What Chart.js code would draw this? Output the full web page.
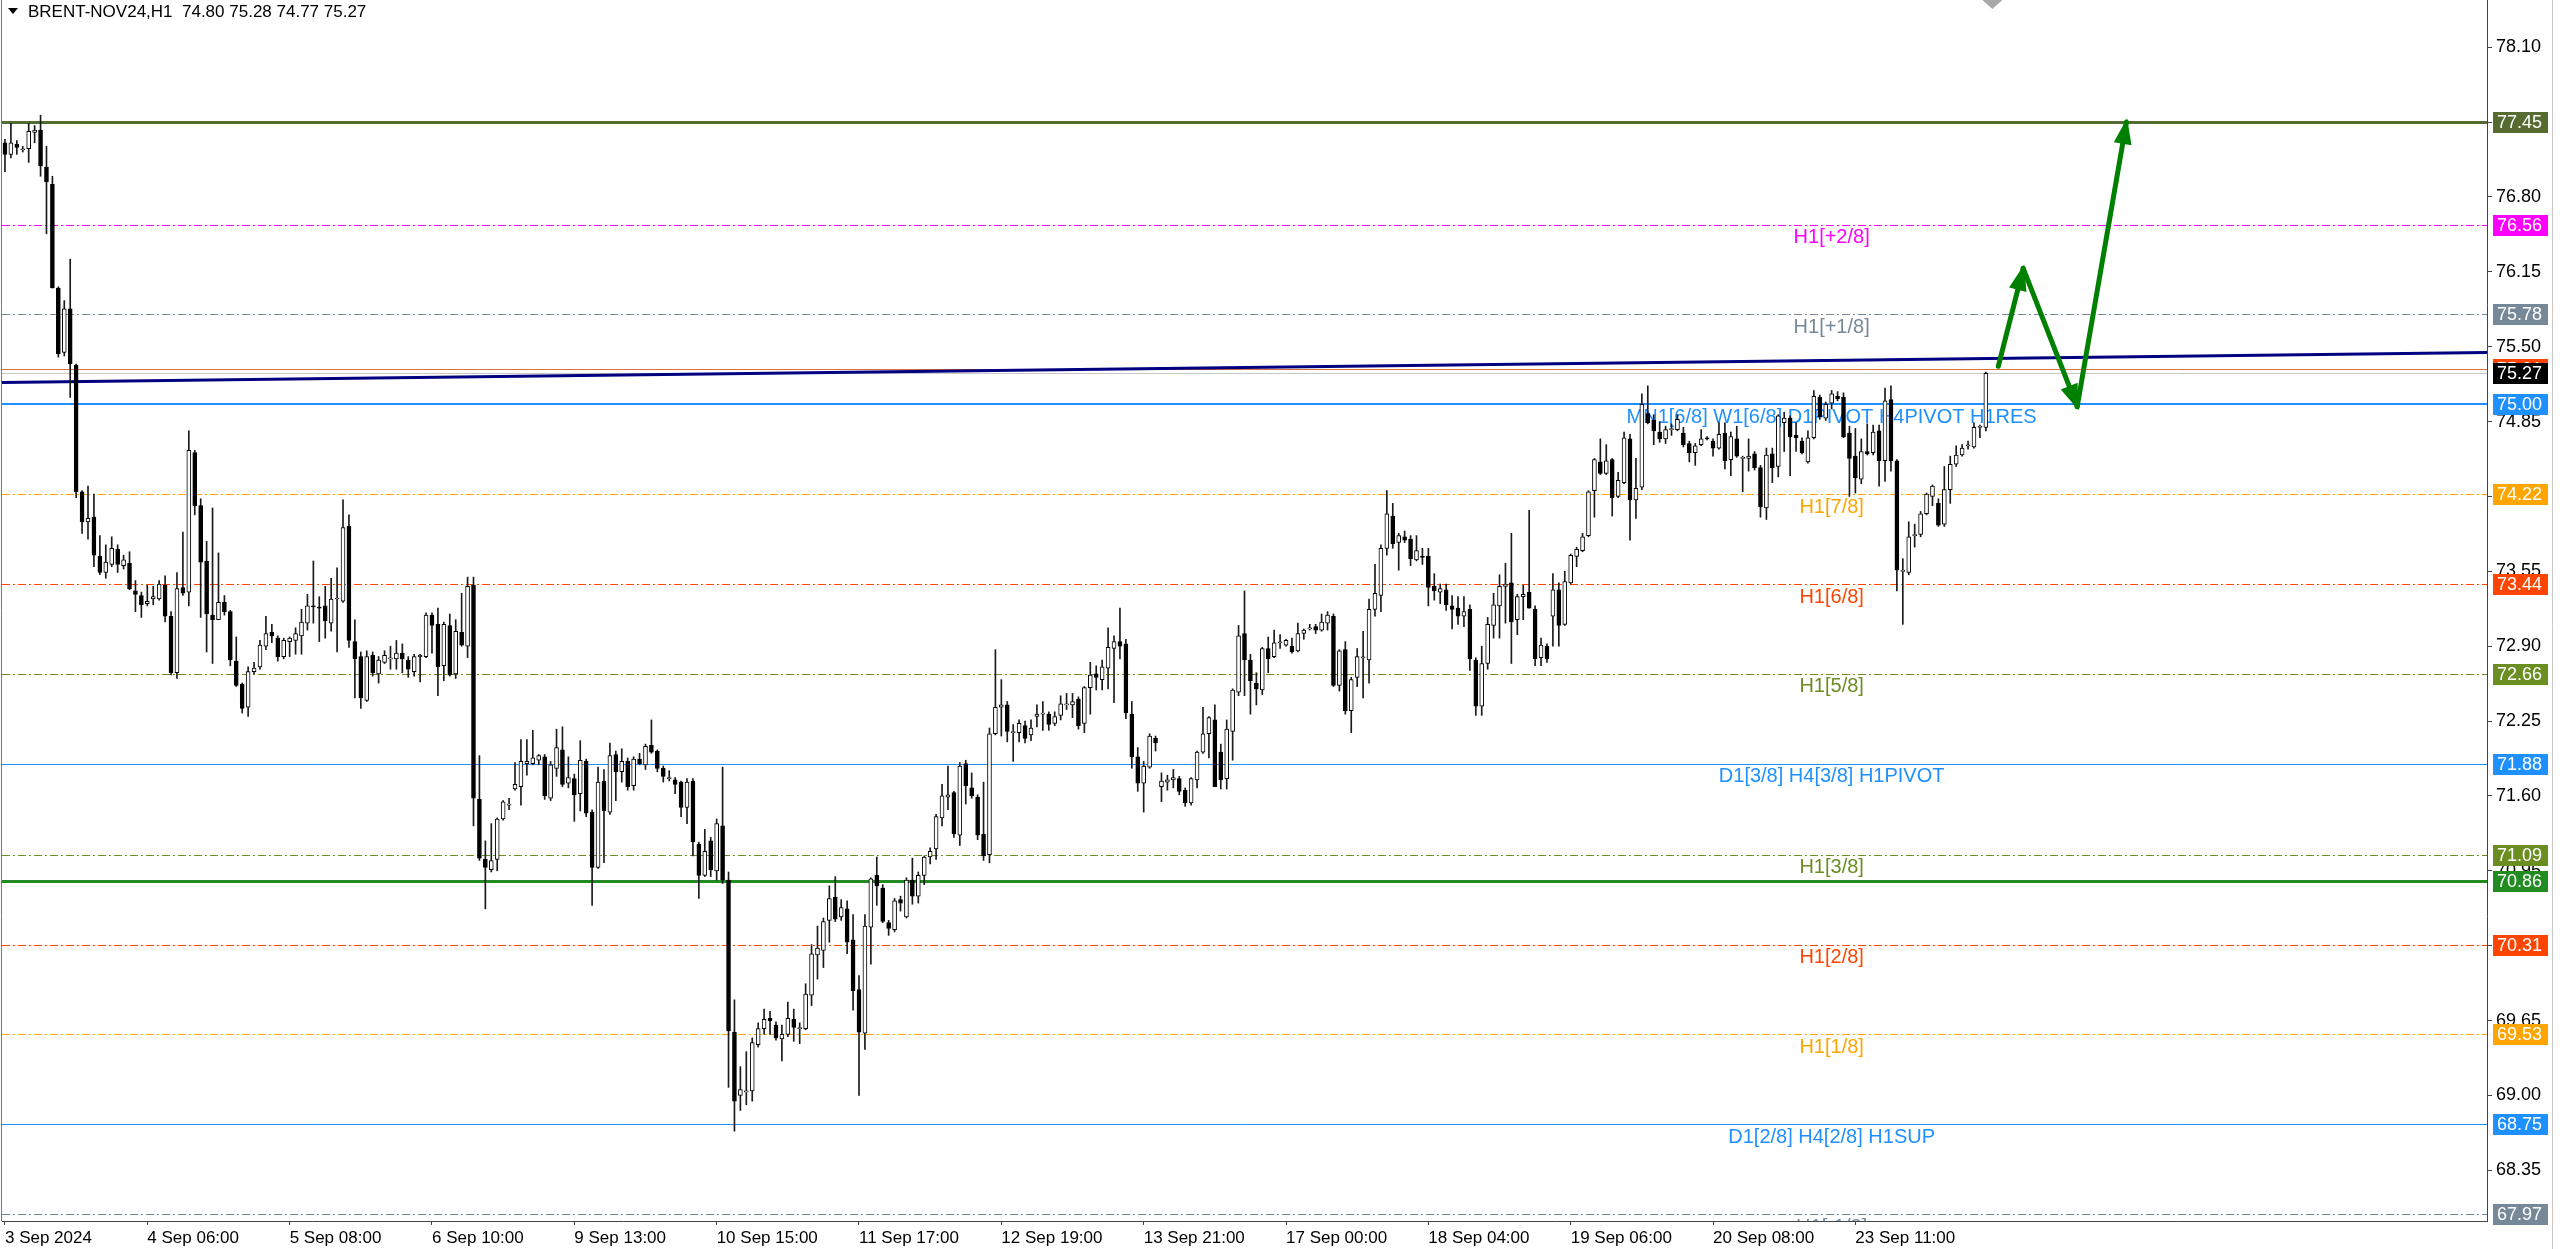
<!DOCTYPE html>
<html>
<head>
<meta charset="utf-8">
<script src="https://cdn.jsdelivr.net/npm/chart.js@4.4.1/dist/chart.umd.min.js"></script>
<style>
  html, body { margin: 0; padding: 0; background: #fff; overflow: hidden; }
  canvas { display: block; }
</style>
</head>
<body>
<canvas id="chart" width="2560" height="1249"></canvas>
<script>
// BRENT-NOV24, H1 - lecturas aproximadas de cada vela
const opens = [
  77.27, 77.17, 77.26, 77.21, 77.22, 77.36, 77.38, 77.06, 76.91, 76.01,
  75.45, 75.83, 75.34, 74.24, 73.98, 74.02, 73.68, 73.54, 73.61, 73.74,
  73.60, 73.62, 73.38, 73.34, 73.27, 73.31, 73.31, 73.43, 73.16, 72.67,
  73.41, 73.37, 74.58, 74.12, 73.64, 73.17, 73.13, 73.28, 73.20, 72.77,
  72.57, 72.37, 72.68, 72.72, 72.90, 73.02, 72.97, 72.81, 72.94, 72.95,
  72.99, 73.10, 73.25, 73.24, 73.25, 73.10, 73.31, 73.29, 73.94, 72.94,
  72.81, 72.43, 72.82, 72.66, 72.76, 72.79, 72.79, 72.84, 72.78, 72.68,
  72.81, 72.81, 73.17, 73.09, 72.73, 73.08, 72.66, 73.02, 72.90, 73.43,
  71.57, 71.05, 70.96, 71.05, 71.40, 71.52, 71.66, 71.68, 71.88, 71.88,
  71.91, 71.94, 71.58, 71.84, 72.00, 71.71, 71.75, 71.62, 71.90, 71.46,
  70.98, 71.73, 71.46, 71.96, 71.81, 71.90, 71.69, 71.92, 71.87, 72.04,
  71.99, 71.84, 71.75, 71.74, 71.72, 71.50, 71.73, 71.18, 70.91, 71.21,
  70.95, 71.34, 70.87, 69.55, 69.00, 69.03, 69.04, 69.44, 69.58, 69.67,
  69.61, 69.49, 69.53, 69.66, 69.58, 69.58, 69.87, 70.22, 70.26, 70.52,
  70.72, 70.55, 70.62, 70.35, 69.92, 69.54, 70.46, 70.91, 70.80, 70.50,
  70.44, 70.70, 70.55, 70.87, 70.73, 70.91, 71.07, 71.14, 71.41, 71.59,
  71.63, 71.26, 71.88, 71.67, 71.59, 71.27, 71.09, 72.14, 72.37, 72.39,
  72.15, 72.15, 72.21, 72.13, 72.29, 72.31, 72.31, 72.23, 72.30, 72.39,
  72.39, 72.44, 72.23, 72.54, 72.66, 72.61, 72.71, 72.88, 72.94, 72.92,
  72.31, 71.94, 71.71, 71.85, 72.10, 71.68, 71.72, 71.74, 71.75, 71.65,
  71.54, 71.74, 71.98, 72.14, 72.26, 71.98, 71.75, 72.16, 72.50, 73.01,
  72.78, 72.58, 72.52, 72.88, 72.81, 72.93, 72.91, 72.90, 72.86, 73.01,
  73.05, 73.07, 73.04, 73.10, 73.16, 72.56, 72.87, 72.34, 72.63, 72.80,
  72.78, 73.22, 73.34, 73.75, 74.03, 73.80, 73.85, 73.83, 73.65, 73.68,
  73.68, 73.42, 73.37, 73.39, 73.25, 73.23, 73.16, 73.22, 72.78, 72.38,
  72.75, 73.08, 73.25, 73.42, 73.45, 73.13, 73.33, 73.37, 73.22, 72.80,
  72.90, 73.16, 73.39, 73.09, 73.45, 73.68, 73.73, 73.86, 74.25, 74.50,
  74.40, 74.52, 74.20, 74.32, 74.70, 74.17, 74.28, 74.92, 74.86, 74.76,
  74.70, 74.78, 74.78, 74.75, 74.66, 74.58, 74.65, 74.71, 74.68, 74.62,
  74.75, 74.52, 74.70, 74.53, 74.53, 74.57, 74.45, 74.10, 74.57, 74.46,
  74.84, 74.88, 74.73, 74.68, 74.50, 74.71, 75.06, 74.88, 75.01, 75.07,
  75.06, 74.75, 74.55, 74.35, 74.59, 74.58, 74.77, 74.51, 75.04, 74.51,
  73.55, 73.54, 73.86, 73.87, 74.05, 74.20, 74.14, 73.96, 74.26, 74.48,
  74.56, 74.64, 74.63, 74.80, 74.80
];
const highs = [
  77.30, 77.44, 77.29, 77.24, 77.44, 77.42, 77.51, 77.24, 76.98, 76.02,
  75.90, 76.26, 75.35, 74.25, 74.29, 74.22, 73.86, 73.78, 73.85, 73.78,
  73.69, 73.72, 73.47, 73.37, 73.43, 73.42, 73.47, 73.51, 73.20, 73.54,
  73.89, 74.77, 74.60, 74.18, 73.81, 74.10, 73.71, 73.34, 73.21, 72.98,
  72.58, 72.72, 72.76, 72.95, 73.16, 73.09, 72.99, 72.97, 72.98, 73.06,
  73.22, 73.35, 73.64, 73.33, 73.42, 73.49, 73.58, 74.17, 74.04, 73.13,
  72.85, 72.86, 72.85, 72.81, 72.86, 72.90, 72.95, 72.92, 72.81, 72.83,
  72.83, 73.19, 73.19, 73.23, 73.11, 73.18, 73.13, 73.36, 73.50, 73.50,
  71.95, 71.21, 71.36, 71.41, 71.56, 71.58, 71.89, 72.09, 72.09, 72.17,
  71.96, 71.96, 71.90, 72.18, 72.20, 71.94, 71.79, 72.08, 71.92, 71.48,
  71.85, 71.83, 72.06, 71.99, 72.01, 71.93, 71.94, 71.97, 72.05, 72.26,
  72.00, 71.86, 71.82, 71.76, 71.73, 71.75, 71.75, 71.20, 71.31, 71.24,
  71.40, 71.85, 70.94, 69.83, 69.25, 69.38, 69.50, 69.63, 69.75, 69.73,
  69.64, 69.61, 69.81, 69.75, 69.63, 69.97, 70.31, 70.47, 70.54, 70.82,
  70.90, 70.70, 70.69, 70.57, 70.04, 70.57, 70.89, 71.07, 70.83, 70.52,
  70.71, 70.73, 70.89, 71.06, 70.94, 71.08, 71.15, 71.44, 71.70, 71.86,
  71.64, 71.89, 71.91, 71.80, 71.61, 71.72, 72.19, 72.87, 72.61, 72.42,
  72.22, 72.26, 72.25, 72.26, 72.39, 72.42, 72.33, 72.33, 72.47, 72.49,
  72.49, 72.46, 72.55, 72.76, 72.73, 72.78, 73.06, 72.99, 73.23, 72.96,
  72.42, 72.02, 71.90, 72.14, 72.12, 71.80, 71.78, 71.83, 71.77, 71.67,
  71.76, 71.99, 72.37, 72.29, 72.39, 72.05, 72.26, 72.53, 73.08, 73.38,
  72.83, 72.67, 72.89, 72.98, 73.04, 73.00, 72.96, 72.97, 73.10, 73.05,
  73.09, 73.09, 73.18, 73.20, 73.18, 72.87, 72.94, 72.63, 72.88, 73.03,
  73.31, 73.61, 73.78, 74.25, 74.14, 73.88, 73.90, 73.86, 73.86, 73.75,
  73.75, 73.53, 73.44, 73.44, 73.34, 73.33, 73.33, 73.26, 72.80, 72.90,
  73.15, 73.36, 73.52, 73.62, 73.88, 73.35, 73.43, 74.08, 73.25, 72.97,
  72.92, 73.53, 73.45, 73.55, 73.70, 73.76, 73.88, 74.25, 74.53, 74.70,
  74.65, 74.53, 74.41, 74.76, 74.74, 74.53, 75.09, 75.16, 74.91, 74.85,
  74.81, 74.83, 74.91, 74.80, 74.68, 74.66, 74.78, 74.72, 74.70, 74.84,
  74.84, 74.76, 74.81, 74.55, 74.70, 74.59, 74.47, 74.62, 74.62, 74.91,
  74.93, 74.90, 74.84, 74.71, 74.77, 75.12, 75.08, 75.02, 75.12, 75.11,
  75.10, 74.81, 74.79, 74.70, 74.83, 74.82, 74.82, 75.14, 75.16, 74.52,
  73.66, 73.98, 73.96, 74.07, 74.23, 74.30, 74.18, 74.46, 74.55, 74.64,
  74.65, 74.68, 74.84, 74.82, 75.28
];
const lows = [
  77.02, 77.14, 77.17, 77.19, 77.10, 77.27, 76.98, 76.48, 76.01, 75.41,
  75.42, 75.06, 74.19, 73.88, 73.83, 73.59, 73.52, 73.49, 73.59, 73.54,
  73.57, 73.39, 73.20, 73.15, 73.25, 73.26, 73.30, 73.11, 72.65, 72.62,
  73.34, 73.25, 74.04, 73.15, 72.85, 72.75, 73.13, 73.17, 72.73, 72.55,
  72.32, 72.29, 72.66, 72.70, 72.87, 72.93, 72.77, 72.79, 72.81, 72.83,
  72.83, 73.04, 73.10, 72.94, 72.97, 73.03, 72.85, 73.28, 72.89, 72.45,
  72.36, 72.42, 72.64, 72.58, 72.75, 72.70, 72.70, 72.67, 72.63, 72.64,
  72.59, 72.80, 72.84, 72.47, 72.60, 72.64, 72.62, 72.90, 72.80, 71.34,
  71.04, 70.62, 70.94, 70.95, 71.39, 71.48, 71.65, 71.52, 71.78, 71.87,
  71.87, 71.57, 71.56, 71.77, 71.68, 71.67, 71.38, 71.47, 71.42, 70.65,
  70.97, 71.02, 71.44, 71.56, 71.72, 71.65, 71.65, 71.87, 71.83, 71.97,
  71.81, 71.72, 71.73, 71.62, 71.42, 71.36, 71.08, 70.71, 70.90, 70.90,
  70.87, 70.84, 69.07, 68.69, 68.87, 68.92, 68.95, 69.42, 69.53, 69.53,
  69.48, 69.30, 69.51, 69.47, 69.45, 69.57, 69.78, 70.01, 70.11, 70.33,
  70.51, 70.52, 70.23, 69.74, 69.00, 69.40, 70.14, 70.65, 70.50, 70.39,
  70.42, 70.60, 70.54, 70.66, 70.67, 70.83, 71.01, 71.05, 71.34, 71.48,
  71.24, 71.17, 71.53, 71.58, 71.22, 71.04, 71.02, 72.13, 72.12, 72.07,
  71.90, 72.07, 72.06, 72.08, 72.20, 72.17, 72.17, 72.21, 72.26, 72.35,
  72.28, 72.18, 72.15, 72.31, 72.52, 72.52, 72.53, 72.41, 72.79, 72.27,
  71.84, 71.64, 71.46, 71.84, 71.99, 71.55, 71.65, 71.67, 71.61, 71.51,
  71.52, 71.67, 71.97, 71.93, 71.68, 71.66, 71.66, 71.91, 72.47, 72.47,
  72.31, 72.39, 72.48, 72.67, 72.80, 72.88, 72.90, 72.84, 72.85, 72.96,
  73.04, 73.01, 73.03, 73.04, 72.55, 72.51, 72.31, 72.15, 72.55, 72.45,
  72.58, 73.16, 73.20, 73.69, 73.75, 73.56, 73.80, 73.60, 73.64, 73.61,
  73.25, 73.30, 73.27, 73.21, 73.05, 73.09, 73.07, 72.69, 72.30, 72.30,
  72.70, 72.97, 72.97, 73.10, 72.75, 73.00, 73.13, 73.23, 72.73, 72.73,
  72.76, 72.90, 72.90, 73.08, 73.44, 73.59, 73.72, 73.85, 74.02, 74.39,
  74.39, 74.03, 74.19, 74.31, 73.82, 74.01, 74.26, 74.83, 74.65, 74.67,
  74.66, 74.73, 74.77, 74.63, 74.50, 74.47, 74.64, 74.69, 74.55, 74.61,
  74.44, 74.38, 74.54, 74.24, 74.42, 74.43, 74.02, 74.00, 74.32, 74.37,
  74.59, 74.38, 74.59, 74.57, 74.49, 74.70, 74.87, 74.86, 74.96, 75.03,
  74.71, 74.20, 74.23, 74.31, 74.56, 74.56, 74.29, 74.33, 74.42, 73.38,
  73.09, 73.52, 73.76, 73.85, 74.04, 74.12, 73.94, 73.94, 74.14, 74.46,
  74.55, 74.61, 74.62, 74.71, 74.77
];
const closes = [
  77.17, 77.27, 77.23, 77.21, 77.37, 77.38, 77.07, 76.93, 76.01, 75.44,
  75.83, 75.35, 74.24, 73.98, 74.01, 73.69, 73.54, 73.63, 73.75, 73.61,
  73.65, 73.40, 73.35, 73.26, 73.29, 73.33, 73.44, 73.16, 72.67, 73.40,
  73.36, 74.60, 74.12, 73.63, 73.18, 73.13, 73.28, 73.20, 72.78, 72.56,
  72.36, 72.68, 72.71, 72.91, 73.01, 72.99, 72.81, 72.95, 72.97, 73.01,
  73.11, 73.25, 73.24, 73.23, 73.12, 73.31, 73.31, 73.93, 72.95, 72.79,
  72.45, 72.81, 72.67, 72.78, 72.82, 72.79, 72.84, 72.79, 72.70, 72.81,
  72.82, 73.17, 73.08, 72.72, 73.09, 72.65, 73.03, 72.91, 73.42, 71.58,
  71.06, 70.98, 71.04, 71.40, 71.55, 71.53, 71.70, 71.90, 71.90, 71.93,
  71.95, 71.60, 71.87, 72.02, 71.70, 71.76, 71.61, 71.91, 71.45, 70.98,
  71.72, 71.47, 71.95, 71.81, 71.90, 71.68, 71.92, 71.88, 72.03, 71.98,
  71.84, 71.77, 71.75, 71.70, 71.50, 71.72, 71.20, 70.91, 71.12, 70.96,
  71.36, 70.87, 69.56, 68.95, 69.05, 69.04, 69.46, 69.58, 69.66, 69.65,
  69.50, 69.53, 69.67, 69.59, 69.58, 69.88, 70.23, 70.28, 70.51, 70.71,
  70.53, 70.63, 70.33, 69.91, 69.55, 70.47, 70.88, 70.82, 70.51, 70.45,
  70.69, 70.67, 70.87, 70.73, 70.91, 71.07, 71.12, 71.42, 71.60, 71.61,
  71.27, 71.86, 71.69, 71.60, 71.26, 71.08, 72.14, 72.37, 72.39, 72.16,
  72.15, 72.23, 72.10, 72.19, 72.31, 72.31, 72.22, 72.29, 72.40, 72.39,
  72.42, 72.21, 72.54, 72.65, 72.63, 72.72, 72.89, 72.94, 72.90, 72.32,
  71.94, 71.71, 71.86, 72.12, 72.06, 71.73, 71.74, 71.76, 71.64, 71.54,
  71.75, 71.98, 72.14, 72.28, 71.68, 71.74, 72.18, 72.52, 72.99, 72.78,
  72.60, 72.53, 72.88, 72.79, 72.93, 72.93, 72.95, 72.85, 73.01, 73.04,
  73.05, 73.04, 73.11, 73.17, 72.56, 72.86, 72.34, 72.61, 72.81, 72.80,
  73.22, 73.36, 73.75, 74.05, 73.79, 73.86, 73.82, 73.66, 73.73, 73.67,
  73.41, 73.38, 73.40, 73.26, 73.22, 73.16, 73.20, 72.79, 72.38, 72.75,
  73.09, 73.26, 73.42, 73.44, 73.11, 73.33, 73.35, 73.23, 72.79, 72.91,
  72.79, 73.39, 73.08, 73.46, 73.69, 73.74, 73.85, 74.24, 74.52, 74.40,
  74.51, 74.19, 74.34, 74.71, 74.17, 74.27, 75.00, 74.84, 74.77, 74.70,
  74.78, 74.78, 74.87, 74.65, 74.58, 74.64, 74.70, 74.70, 74.62, 74.74,
  74.51, 74.72, 74.55, 74.53, 74.55, 74.45, 74.11, 74.56, 74.45, 74.90,
  74.88, 74.72, 74.71, 74.58, 74.71, 75.07, 74.89, 75.00, 75.09, 75.05,
  74.72, 74.53, 74.36, 74.59, 74.57, 74.76, 74.51, 75.03, 74.51, 73.56,
  73.55, 73.85, 73.87, 74.05, 74.22, 74.29, 73.95, 74.26, 74.48, 74.56,
  74.62, 74.64, 74.80, 74.80, 75.27
];

// Eje de tiempo: etiqueta cada 24 barras, hueco a la derecha (desplazamiento del gráfico)
const totalSlots = 419;
const dateTickBars = [0, 24, 48, 72, 96, 120, 144, 168, 192, 216, 240, 264, 288, 312];
const dateTicks = ['3 Sep 2024', '4 Sep 06:00', '5 Sep 08:00', '6 Sep 10:00', '9 Sep 13:00',
  '10 Sep 15:00', '11 Sep 17:00', '12 Sep 19:00', '13 Sep 21:00', '17 Sep 00:00',
  '18 Sep 04:00', '19 Sep 06:00', '20 Sep 08:00', '23 Sep 11:00'];

// Escala de precios
const priceMin = 67.91;
const priceMax = 78.51;
const priceTicks = [78.10, 77.45, 76.80, 76.15, 75.50, 74.85, 74.20, 73.55, 72.90,
  72.25, 71.60, 70.95, 70.30, 69.65, 69.00, 68.35];

// Niveles horizontales (Murrey / pivotes)
const levelPrices = [77.45, 76.56, 75.78, 75.00, 74.22, 73.44, 72.66, 71.88, 71.09, 70.86, 70.31, 69.53, 68.75, 67.97];
const levelColors = ['#556B2F', '#FF00FF', '#778899', '#1E90FF', '#FFA500', '#FF4500', '#6B8E23',
  '#1E90FF', '#6B8E23', '#228B22', '#FF4500', '#FFA500', '#1E90FF', '#778899'];
const levelWidths = [3, 1, 1, 2, 1, 1, 1, 1, 1, 3, 1, 1, 1, 1];
const levelDashed = [false, true, true, false, true, true, true, false, true, false, true, true, false, true];
const levelTexts = ['', 'H1[+2/8]', 'H1[+1/8]', 'MN1[6/8] W1[6/8] D1PIVOT H4PIVOT H1RES', 'H1[7/8]', 'H1[6/8]',
  'H1[5/8]', 'D1[3/8] H4[3/8] H1PIVOT', 'H1[3/8]', '', 'H1[2/8]', 'H1[1/8]', 'D1[2/8] H4[2/8] H1SUP', 'H1[-1/8]'];
const levelTextBar = 308;

// Bid / Ask
const askPrice = 75.31;
const bidPrice = 75.27;

// Línea de tendencia y flechas (índice de barra, precio)
const trendLine = [{ x: -0.5, y: 75.19 }, { x: 418.5, y: 75.45 }];
const arrowPath = [{ x: 336.1, y: 75.33 }, { x: 340.3, y: 76.18 }, { x: 349.4, y: 74.98 }, { x: 357.7, y: 77.45 }];
const shiftMarkBar = 335.1;

const headerText = 'BRENT-NOV24,H1  74.80 75.28 74.77 75.27';

const labels = [];
for (let i = 0; i < totalSlots; i++) {
  const k = dateTickBars.indexOf(i);
  labels.push(k >= 0 ? dateTicks[k] : '');
}
const bodies = opens.map((o, i) => [o, closes[i]]);
const wicks = lows.map((l, i) => [l, highs[i]]);
const bodyColors = opens.map((o, i) => closes[i] < o ? '#000000' : '#ffffff');

function arrowHead(ctx, x0, y0, x1, y1, len, half) {
  const ang = Math.atan2(y1 - y0, x1 - x0);
  ctx.beginPath();
  ctx.moveTo(x1 + Math.cos(ang) * 4, y1 + Math.sin(ang) * 4);
  ctx.lineTo(x1 - Math.cos(ang) * len - Math.sin(ang) * half, y1 - Math.sin(ang) * len + Math.cos(ang) * half);
  ctx.lineTo(x1 - Math.cos(ang) * len + Math.sin(ang) * half, y1 - Math.sin(ang) * len - Math.cos(ang) * half);
  ctx.closePath();
  ctx.fill();
}

function priceBox(ctx, a, y, price, bg) {
  const py = Math.round(y.getPixelForValue(price));
  ctx.fillStyle = bg;
  ctx.fillRect(a.right + 6, py - 10, 55, 21);
  ctx.fillStyle = '#ffffff';
  ctx.fillText(price.toFixed(2), a.right + 10, py + 1);
}

const overlay = {
  id: 'overlay',
  beforeDatasetsDraw(chart) {
    const { ctx, chartArea: a, scales: { x, y } } = chart;
    ctx.save();
    ctx.beginPath();
    ctx.rect(a.left, a.top, a.right - a.left, a.bottom - a.top);
    ctx.clip();

    // niveles
    levelPrices.forEach((p, i) => {
      const w = levelWidths[i];
      const py = Math.round(y.getPixelForValue(p)) + (w % 2 ? 0.5 : 0);
      ctx.strokeStyle = levelColors[i];
      ctx.lineWidth = w;
      ctx.setLineDash(levelDashed[i] ? [8, 3, 2, 3] : []);
      ctx.beginPath();
      ctx.moveTo(a.left, py);
      ctx.lineTo(a.right, py);
      ctx.stroke();
    });
    ctx.setLineDash([]);

    // bid / ask
    ctx.lineWidth = 1;
    ctx.strokeStyle = '#d9713f';
    let py = Math.round(y.getPixelForValue(askPrice)) + 0.5;
    ctx.beginPath(); ctx.moveTo(a.left, py); ctx.lineTo(a.right, py); ctx.stroke();
    ctx.strokeStyle = '#c8c8c8';
    py = Math.round(y.getPixelForValue(bidPrice)) + 0.5;
    ctx.beginPath(); ctx.moveTo(a.left, py); ctx.lineTo(a.right, py); ctx.stroke();

    // textos de niveles
    ctx.font = '20px "Liberation Sans", Arial, sans-serif';
    ctx.textAlign = 'center';
    ctx.textBaseline = 'middle';
    const tx = x.getPixelForValue(levelTextBar);
    levelPrices.forEach((p, i) => {
      if (!levelTexts[i]) return;
      ctx.fillStyle = levelColors[i];
      ctx.fillText(levelTexts[i], tx, y.getPixelForValue(p) + 13);
    });

    // línea de tendencia
    ctx.strokeStyle = '#000080';
    ctx.lineWidth = 3;
    ctx.beginPath();
    ctx.moveTo(x.getPixelForValue(trendLine[0].x), y.getPixelForValue(trendLine[0].y));
    ctx.lineTo(x.getPixelForValue(trendLine[1].x), y.getPixelForValue(trendLine[1].y));
    ctx.stroke();

    // flechas verdes
    ctx.strokeStyle = '#008000';
    ctx.fillStyle = '#008000';
    ctx.lineWidth = 5;
    ctx.lineCap = 'round';
    for (let i = 0; i < arrowPath.length - 1; i++) {
      const x0 = x.getPixelForValue(arrowPath[i].x), y0 = y.getPixelForValue(arrowPath[i].y);
      const x1 = x.getPixelForValue(arrowPath[i + 1].x), y1 = y.getPixelForValue(arrowPath[i + 1].y);
      ctx.beginPath();
      ctx.moveTo(x0, y0);
      ctx.lineTo(x1, y1);
      ctx.stroke();
      arrowHead(ctx, x0, y0, x1, y1, 22, 9);
    }
    ctx.restore();
  },
  afterDatasetsDraw(chart) {
    const { ctx, chartArea: a, scales: { x } } = chart;
    ctx.save();
    // encabezado
    ctx.fillStyle = '#000';
    ctx.beginPath();
    ctx.moveTo(8, 8); ctx.lineTo(18, 8); ctx.lineTo(13, 14); ctx.closePath();
    ctx.fill();
    ctx.font = '17px "Liberation Sans", Arial, sans-serif';
    ctx.textAlign = 'left';
    ctx.textBaseline = 'middle';
    ctx.fillText(headerText, 28, 12);
    // marca de desplazamiento
    const mx = x.getPixelForValue(shiftMarkBar);
    ctx.fillStyle = '#a8a8a8';
    ctx.beginPath();
    ctx.moveTo(mx - 10, a.top); ctx.lineTo(mx + 10, a.top); ctx.lineTo(mx, a.top + 9); ctx.closePath();
    ctx.fill();
    // marco izquierdo
    ctx.strokeStyle = '#777';
    ctx.lineWidth = 1;
    ctx.beginPath(); ctx.moveTo(1.5, 0); ctx.lineTo(1.5, a.bottom); ctx.stroke();
    ctx.strokeStyle = '#c8c8c8';
    ctx.beginPath(); ctx.moveTo(2552.5, 0); ctx.lineTo(2552.5, chart.height); ctx.stroke();
    ctx.restore();
  },
  afterDraw(chart) {
    const { ctx, chartArea: a, scales: { y } } = chart;
    ctx.save();
    ctx.font = '18px "Liberation Sans", Arial, sans-serif';
    ctx.textAlign = 'left';
    ctx.textBaseline = 'middle';
    levelPrices.forEach((p, i) => priceBox(ctx, a, y, p, levelColors[i]));
    priceBox(ctx, a, y, askPrice, '#FF4500');
    priceBox(ctx, a, y, bidPrice, '#000000');
    ctx.restore();
  }
};

new Chart(document.getElementById('chart').getContext('2d'), {
  type: 'bar',
  data: {
    labels: labels,
    datasets: [
      {
        label: 'wick',
        data: wicks,
        backgroundColor: '#1a1a1a',
        borderWidth: 0,
        barThickness: 1,
        grouped: false,
        order: 2
      },
      {
        label: 'body',
        data: bodies,
        backgroundColor: bodyColors,
        borderColor: '#000000',
        borderWidth: 1,
        borderSkipped: false,
        barThickness: 4,
        minBarLength: 1,
        grouped: false,
        order: 1
      }
    ]
  },
  options: {
    responsive: false,
    animation: false,
    devicePixelRatio: 1,
    layout: { padding: { left: 2, top: 0, right: 0, bottom: 0 } },
    plugins: { legend: { display: false }, tooltip: { enabled: false } },
    scales: {
      x: {
        type: 'category',
        offset: true,
        grid: { display: true, offset: false, drawOnChartArea: false, drawTicks: true, tickLength: 4, color: '#444' },
        border: { display: true, color: '#444' },
        ticks: {
          autoSkip: false, maxRotation: 0, minRotation: 0, align: 'start', padding: 3,
          color: '#000', font: { family: '"Liberation Sans", Arial, sans-serif', size: 17 }
        },
        afterBuildTicks: s => { s.ticks = dateTickBars.map(v => ({ value: v })); },
        afterFit: s => { s.height = 28; s.paddingLeft = 0; s.paddingRight = 0; }
      },
      y: {
        position: 'right',
        min: priceMin,
        max: priceMax,
        beginAtZero: false,
        grid: { drawOnChartArea: false, drawTicks: true, tickLength: 5, color: '#444' },
        border: { display: true, color: '#444' },
        ticks: {
          autoSkip: false, padding: 4, color: '#000',
          font: { family: '"Liberation Sans", Arial, sans-serif', size: 18 },
          callback: v => Number(v).toFixed(2)
        },
        afterBuildTicks: s => { s.ticks = priceTicks.map(v => ({ value: v })); },
        afterFit: s => { s.width = 73; s.paddingTop = 0; s.paddingBottom = 0; }
      }
    }
  },
  plugins: [overlay]
});
</script>
</body>
</html>
